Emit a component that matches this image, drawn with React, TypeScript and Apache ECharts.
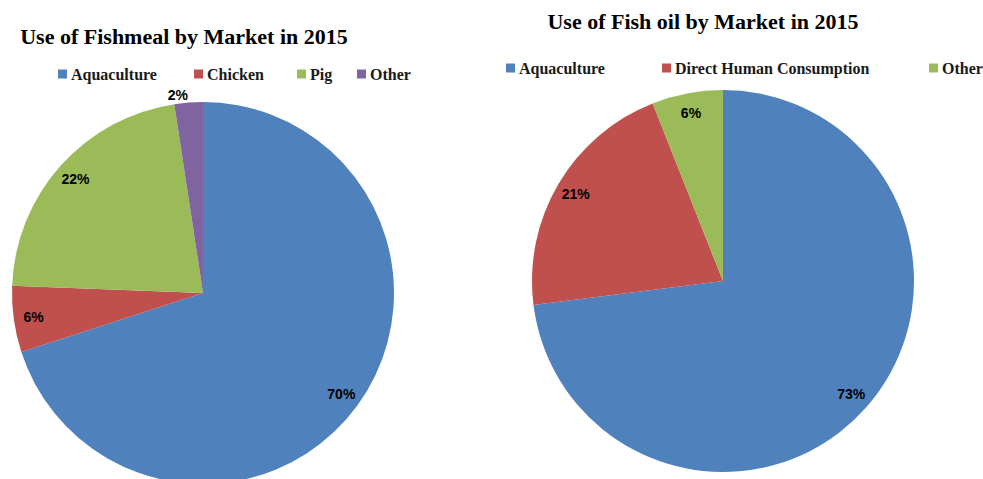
import React, { useEffect, useRef } from "react";
import * as echarts from "echarts";

const mealCategories = ["Aquaculture", "Chicken", "Pig", "Other"];
const mealValues = [70, 5.6, 22, 2.4];
const mealColors = ["#4F81BD", "#C0504D", "#9BBB59", "#8064A2"];

const oilCategories = ["Aquaculture", "Direct Human Consumption", "Other"];
const oilValues = [73, 21, 6];
const oilColors = ["#4F81BD", "#C0504D", "#9BBB59"];

const titles = ["Use of Fishmeal by Market in 2015", "Use of Fish oil by Market in 2015"];

const serif = "'Liberation Serif', 'DejaVu Serif', serif";
const sans = "'Liberation Sans', 'Noto Sans', sans-serif";

export default function App() {
  const ref = useRef<HTMLDivElement>(null);
  useEffect(() => {
    document.body.style.margin = "0";
    document.body.style.overflow = "hidden";
    const chart = echarts.init(ref.current!, null, { renderer: "svg" });

    const mkData = (cats: string[], vals: number[], colors: string[]) =>
      cats.map((c, i) => ({ name: c, value: vals[i], itemStyle: { color: colors[i] } }));

    const labelStyle = { color: "#000", fontFamily: sans, fontWeight: "bold", fontSize: 14 };

    const mkLabelSeries = (cats: string[], vals: number[], center: number[], r: number, outside: string[]) => ({
      type: "pie",
      center,
      radius: [r - 46, r],
      startAngle: 90,
      silent: true,
      percentPrecision: 0,
      itemStyle: { color: "rgba(0,0,0,0)", borderWidth: 0 },
      labelLine: { show: false, length: 8, length2: 0 },
      label: { show: true, position: "inside", formatter: "{d}%", ...labelStyle },
      data: cats.map((c, i) => ({
        name: c,
        value: vals[i],
        label: outside.includes(c) ? { position: "outside", distanceToLabelLine: 0 } : undefined,
      })),
    });

    const legendItem = (name: string, color: string, left: number, top: number) => ({
      data: [{ name, itemStyle: { color } }],
      left,
      top,
      padding: 0,
      itemWidth: 9,
      itemHeight: 9,
      icon: "rect",
      selectedMode: false,
      textStyle: { fontFamily: serif, fontWeight: "bold", fontSize: 16, color: "#1a1a1a", padding: [0, 0, 0, -1] },
    });

    const legendLeftX = [58, 194, 297, 357];
    const legendRightX = [506, 662, 929];

    chart.setOption({
      animation: false,
      title: [
        {
          text: titles[0],
          left: 184,
          top: 25,
          textAlign: "center",
          padding: 0,
          textStyle: { fontFamily: serif, fontWeight: "bold", fontSize: 22, color: "#000" },
        },
        {
          text: titles[1],
          left: 703,
          top: 10,
          textAlign: "center",
          padding: 0,
          textStyle: { fontFamily: serif, fontWeight: "bold", fontSize: 22, color: "#000" },
        },
      ],
      legend: [
        ...mealCategories.map((c, i) => legendItem(c, mealColors[i], legendLeftX[i], 66)),
        ...oilCategories.map((c, i) => legendItem(c, oilColors[i], legendRightX[i], 60)),
      ],
      series: [
        {
          type: "pie",
          center: [203, 293],
          radius: [0, 191],
          startAngle: 90,
          silent: true,
          label: { show: false },
          labelLine: { show: false },
          itemStyle: { borderWidth: 0 },
          data: mkData(mealCategories, mealValues, mealColors),
        },
        mkLabelSeries(mealCategories, mealValues, [203, 293], 191, ["Other"]),
        {
          type: "pie",
          center: [723, 281],
          radius: [0, 191],
          startAngle: 90,
          silent: true,
          label: { show: false },
          labelLine: { show: false },
          itemStyle: { borderWidth: 0 },
          data: mkData(oilCategories, oilValues, oilColors),
        },
        mkLabelSeries(oilCategories, oilValues, [723, 281], 191, []),
      ],
    });
    return () => chart.dispose();
  }, []);
  return <div ref={ref} style={{ width: 983, height: 479 }} />;
}
